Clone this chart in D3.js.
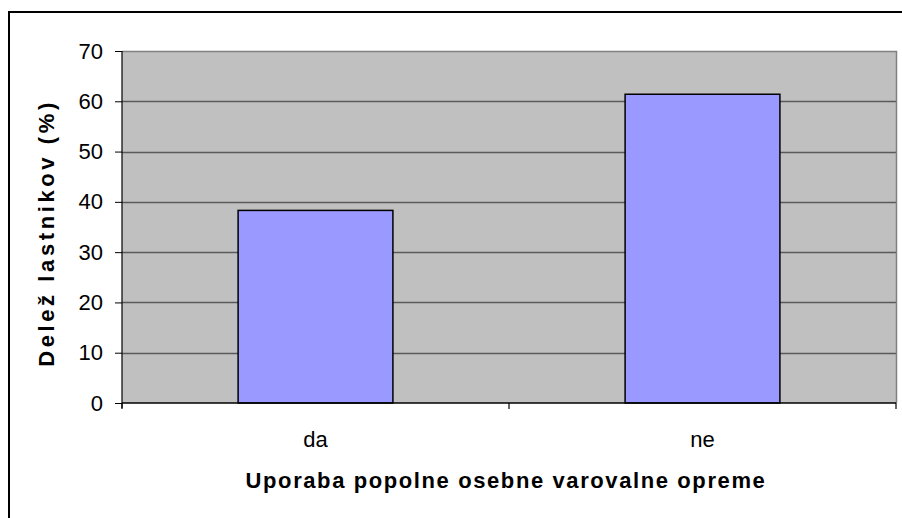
<!DOCTYPE html>
<html>
<head>
<meta charset="utf-8">
<script src="https://cdn.jsdelivr.net/npm/d3@7"></script>
<style>
html,body{margin:0;padding:0;background:#fff;}
svg{display:block;}
text{font-family:"Liberation Sans",Arial,sans-serif;fill:#000;}
</style>
</head>
<body>
<svg id="chart" width="902" height="518"></svg>
<script>
const categories = ["da", "ne"];
const values = [38.3, 61.4];
const yTicks = [0, 10, 20, 30, 40, 50, 60, 70];
const xTitle = "Uporaba popolne osebne varovalne opreme";
const yTitle = "Delež lastnikov (%)";

const svg = d3.select("#chart");
const plot = {left: 122, top: 51, right: 896, bottom: 403};

// outer border
svg.append("rect").attr("x", 9).attr("y", 12).attr("width", 920).attr("height", 540)
  .attr("fill", "#fff").attr("stroke", "#000").attr("stroke-width", 2);

const x = d3.scaleBand().domain(categories).range([plot.left, plot.right])
  .paddingInner(0.6).paddingOuter(0.3);
const y = d3.scaleLinear().domain([0, 70]).range([plot.bottom, plot.top]);

// plot background
svg.append("rect").attr("x", plot.left).attr("y", plot.top)
  .attr("width", plot.right - plot.left).attr("height", plot.bottom - plot.top)
  .attr("fill", "#c0c0c0");

// gridlines
svg.append("g").selectAll("line").data(yTicks.filter(d => d > 0 && d < 70)).join("line")
  .attr("x1", plot.left).attr("x2", plot.right)
  .attr("y1", d => Math.round(y(d)) + 0.5).attr("y2", d => Math.round(y(d)) + 0.5)
  .attr("stroke", "#5a5a5a").attr("stroke-width", 1.5);

// plot top & right border (gray)
svg.append("path")
  .attr("d", `M${plot.left},${plot.top + 0.5}H${plot.right + 0.5}V${plot.bottom}`)
  .attr("fill", "none").attr("stroke", "#808080").attr("stroke-width", 1.5);

// bars
svg.append("g").selectAll("rect").data(values).join("rect")
  .attr("x", (d, i) => x(categories[i]))
  .attr("y", d => y(d))
  .attr("width", x.bandwidth())
  .attr("height", d => y(0) - y(d))
  .attr("fill", "#9999ff").attr("stroke", "#000").attr("stroke-width", 1.5);

// y axis
const yAxis = d3.axisLeft(y).tickValues(yTicks).tickSize(7).tickPadding(12);
const gy = svg.append("g").attr("transform", `translate(${plot.left},0)`).call(yAxis);
gy.select(".domain").attr("stroke", "#000").attr("stroke-width", 1.2)
  .attr("d", `M0,${plot.top}V${plot.bottom + 5}`);
gy.selectAll(".tick line").attr("stroke", "#000");
gy.selectAll(".tick text").style("font-family", "Liberation Sans, Arial, sans-serif")
  .style("font-size", "22px").attr("fill", "#000");

// x axis
const gx = svg.append("g").attr("transform", `translate(0,${plot.bottom})`);
gx.append("line").attr("x1", plot.left).attr("x2", plot.right).attr("y1", 0).attr("y2", 0)
  .attr("stroke", "#000").attr("stroke-width", 1.5);
const boundaries = [plot.left].concat(categories.map(c => x(c) + x.bandwidth() / 2 + x.step() / 2));
gx.selectAll("line.tk").data(boundaries).join("line").attr("class", "tk")
  .attr("x1", d => d).attr("x2", d => d).attr("y1", 0).attr("y2", 6)
  .attr("stroke", "#000").attr("stroke-width", 1.2);
gx.selectAll("text.cat").data(categories).join("text").attr("class", "cat")
  .attr("x", d => x(d) + x.bandwidth() / 2).attr("y", 44)
  .attr("text-anchor", "middle").style("font-size", "22px").text(d => d);

// titles
svg.append("text").attr("x", (plot.left + plot.right) / 2 - 3).attr("y", 488)
  .attr("text-anchor", "middle").style("font-size", "22px").style("font-weight", "bold")
  .style("letter-spacing", "1.6px")
  .text(xTitle);
svg.append("text").attr("transform", `translate(54,233) rotate(-90)`)
  .attr("text-anchor", "middle").style("font-size", "22px").style("font-weight", "bold")
  .style("letter-spacing", "3.6px")
  .text(yTitle);
</script>
</body>
</html>
